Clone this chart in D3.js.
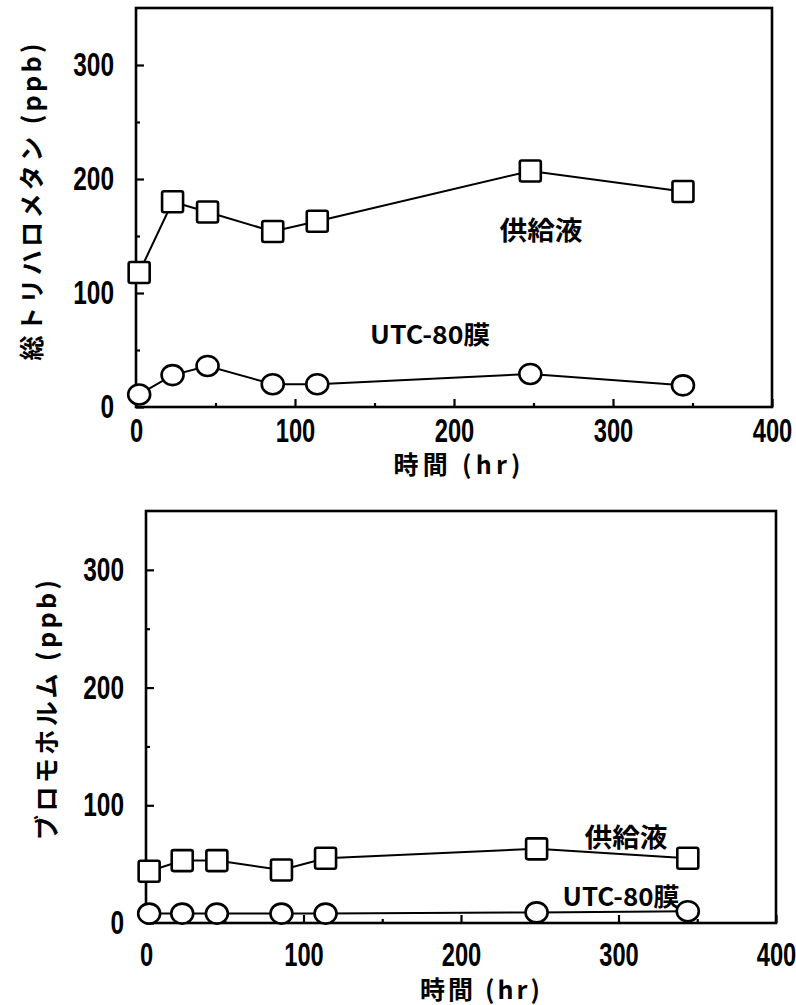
<!DOCTYPE html>
<html>
<head>
<meta charset="utf-8">
<script src="https://cdn.jsdelivr.net/npm/d3@7"></script>
<style>
  html, body { margin: 0; padding: 0; background: #fff; }
  svg { display: block; }
  .num { font-family: "Liberation Sans", "DejaVu Sans", sans-serif; font-weight: bold; }
  .jp { font-family: "Noto Sans CJK JP", sans-serif; font-weight: bold; }
</style>
</head>
<body>
<svg id="chart" width="796" height="1005"></svg>
<script>
// Sampling times (hr)
const hours = [2, 23, 45, 86, 114, 248, 344];

// Total trihalomethanes (ppb)
const thmFeed     = [118, 180, 171, 154, 163, 207, 189];
const thmMembrane = [11, 28, 36, 20, 20, 29, 19];

// Bromoform (ppb)
const bromFeed     = [44, 53, 53, 45, 55, 63, 55];
const bromMembrane = [8, 8, 8, 8, 8, 9, 10];

const xMajorTicks = [0, 100, 200, 300, 400];
const xMinorTicks = [50, 150, 250, 350];
const yMajorTicks = [0, 100, 200, 300];
const yMinorTicks = [50, 150, 250];

const feedLabel = "供給液";
const membraneLabel = "UTC-80膜";
const xTitle = "時間 (hr)";

const svg = d3.select("#chart");

// condensed numerals: fixed advance per digit
function condense(sel, w) {
  sel.attr("class", "num").attr("font-size", 33).attr("fill", "#000")
    .attr("lengthAdjust", "spacingAndGlyphs")
    .attr("textLength", function () { return this.textContent.length * w; });
}

function label(g, text, pos, size, len, adjust, rotate) {
  const t = g.append("text").attr("class", "jp")
    .attr("font-size", size).attr("text-anchor", "middle").attr("dominant-baseline", "central")
    .attr("textLength", len).attr("lengthAdjust", adjust)
    .text(text);
  if (rotate) t.attr("transform", `translate(${pos[0]},${pos[1]}) rotate(-90)`);
  else t.attr("x", pos[0]).attr("y", pos[1]);
  return t;
}

function drawPanel(p) {
  const x = d3.scaleLinear().domain([0, 400]).range([p.left, p.right]);
  const y = d3.scaleLinear().domain([0, 350]).range([p.bottom, p.top]);
  const g = svg.append("g");

  // minor ticks (inward, short)
  g.append("g")
    .attr("transform", `translate(0,${p.bottom})`)
    .call(d3.axisBottom(x).tickValues(xMinorTicks).tickSize(-4).tickFormat(""))
    .call(s => s.select(".domain").remove());
  g.append("g")
    .attr("transform", `translate(${p.left},0)`)
    .call(d3.axisLeft(y).tickValues(yMinorTicks).tickSize(-4).tickFormat(""))
    .call(s => s.select(".domain").remove());

  // major ticks with labels
  g.append("g")
    .attr("transform", `translate(0,${p.bottom})`)
    .call(d3.axisBottom(x).tickValues(xMajorTicks).tickSize(-8).tickPadding(p.xPad).tickFormat(d3.format("d")))
    .call(s => s.select(".domain").remove())
    .call(s => condense(s.selectAll("text"), 13.2));

  g.append("g")
    .attr("transform", `translate(${p.left},0)`)
    .call(d3.axisLeft(y).tickValues(yMajorTicks).tickSize(-8).tickPadding(p.yPad).tickFormat(d3.format("d")))
    .call(s => s.select(".domain").remove())
    .call(s => condense(s.selectAll("text"), 13.6));

  g.selectAll(".tick line").attr("stroke", "#000").attr("stroke-width", 2.2);

  // frame
  g.append("rect")
    .attr("x", p.left).attr("y", p.top)
    .attr("width", p.right - p.left).attr("height", p.bottom - p.top)
    .attr("fill", "none").attr("stroke", "#000").attr("stroke-width", 2.6);

  const line = d3.line().x((d, i) => x(hours[i])).y(d => y(d));

  // connecting lines
  [p.feed, p.membrane].forEach(vals => {
    g.append("path").datum(vals)
      .attr("d", line)
      .attr("fill", "none").attr("stroke", "#000").attr("stroke-width", 2);
  });

  // feed: squares
  const sq = 21;
  g.selectAll(".sq").data(p.feed).join("rect")
    .attr("class", "sq")
    .attr("x", (d, i) => x(hours[i]) - sq / 2)
    .attr("y", d => y(d) - sq / 2)
    .attr("width", sq).attr("height", sq)
    .attr("rx", 2)
    .attr("fill", "#fff").attr("stroke", "#000").attr("stroke-width", 2.6);

  // membrane permeate: circles
  g.selectAll(".ci").data(p.membrane).join("ellipse")
    .attr("class", "ci")
    .attr("cx", (d, i) => x(hours[i]))
    .attr("cy", d => y(d))
    .attr("rx", 11).attr("ry", 10)
    .attr("fill", "#fff").attr("stroke", "#000").attr("stroke-width", 2.6);

  // series labels
  label(g, feedLabel, p.feedLabelPos, 26, 83, "spacingAndGlyphs");
  label(g, membraneLabel, p.memLabelPos, 25, p.memLabelLen, "spacingAndGlyphs");

  // axis titles
  label(g, xTitle, p.xTitlePos, 25, p.xTitleLen, "spacing");
  label(g, p.yTitle, p.yTitlePos, 25, p.yTitleLen, "spacing", true);
}

drawPanel({
  left: 136, right: 772, top: 8, bottom: 407,
  xPad: 12, yPad: 22,
  feed: thmFeed, membrane: thmMembrane,
  feedLabelPos: [541, 228], memLabelPos: [430, 333], memLabelLen: 120,
  xTitlePos: [457, 463], xTitleLen: 127,
  yTitlePos: [30, 202], yTitleLen: 317,
  yTitle: "総トリハロメタン (ppb)"
});

drawPanel({
  left: 146, right: 776, top: 511, bottom: 923,
  xPad: 20, yPad: 22,
  feed: bromFeed, membrane: bromMembrane,
  feedLabelPos: [626, 835], memLabelPos: [621, 895], memLabelLen: 117,
  xTitlePos: [480, 988], xTitleLen: 120,
  yTitlePos: [45, 710], yTitleLen: 260,
  yTitle: "ブロモホルム (ppb)"
});
</script>
</body>
</html>
